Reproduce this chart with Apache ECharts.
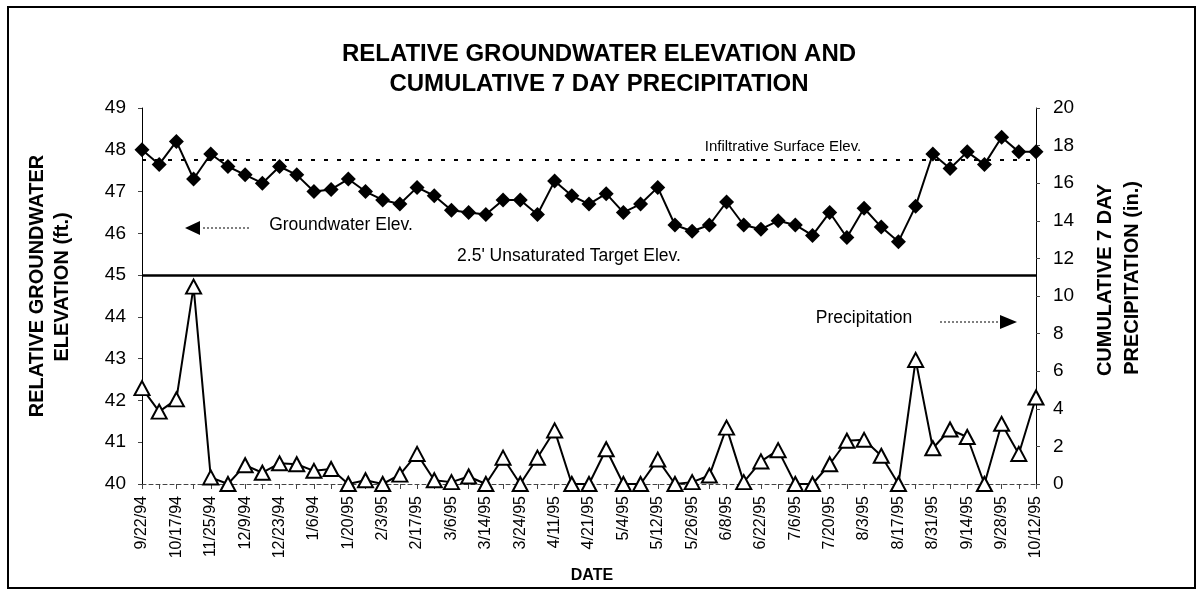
<!DOCTYPE html>
<html>
<head>
<meta charset="utf-8">
<script src="https://cdn.jsdelivr.net/npm/echarts@6/dist/echarts.min.js"></script>
<style>
html,body{margin:0;padding:0;background:#fff;}
#chart{width:1198px;height:591px;}
</style>
</head>
<body>
<div id="chart"></div>
<script>
// ---- data ----
const dateLabels = ['9/22/94','10/17/94','11/25/94','12/9/94','12/23/94','1/6/94','1/20/95','2/3/95','2/17/95','3/6/95','3/14/95','3/24/95','4/11/95','4/21/95','5/4/95','5/12/95','5/26/95','6/8/95','6/22/95','7/6/95','7/20/95','8/3/95','8/17/95','8/31/95','9/14/95','9/28/95','10/12/95'];

const groundwaterElev = [48.0,47.65,48.2,47.3,47.9,47.6,47.4,47.2,47.6,47.4,
  47.0,47.05,47.3,47.0,46.8,46.7,47.1,46.9,46.55,46.5,
  46.45,46.8,46.8,46.45,47.25,46.9,46.7,46.95,46.5,46.7,
  47.1,46.2,46.05,46.2,46.75,46.2,46.1,46.3,46.2,45.95,
  46.5,45.9,46.6,46.15,45.8,46.65,47.9,47.55,47.95,47.65,
  48.3,47.95,47.95];

const precipitation = [5.1,3.85,4.5,10.5,0.35,0,1.0,0.6,1.1,1.05,
  0.7,0.8,0,0.2,0,0.5,1.6,0.2,0.1,0.4,
  0,1.4,0,1.4,2.85,0,0,1.85,0,0,
  1.3,0,0.1,0.45,3.0,0.1,1.2,1.8,0,0,
  1.05,2.3,2.35,1.5,0,6.6,1.9,2.9,2.5,0,
  3.2,1.6,4.6];

const leftAxisRange = [40, 49, 1];
const rightAxisRange = [0, 20, 2];
const infiltrativeElev = 47.75;
const targetElev = 45.0;

// categories: one labelled date every second reading
const categories = [];
for (let i = 0; i < groundwaterElev.length; i++) {
  categories.push(i % 2 === 0 ? dateLabels[i / 2] : '');
}

const FONT = '"Liberation Sans", Arial, sans-serif';
const chart = echarts.init(document.getElementById('chart'));

chart.setOption({
  animation: false,
  backgroundColor: '#fff',
  title: {
    text: 'RELATIVE GROUNDWATER ELEVATION AND\nCUMULATIVE 7 DAY PRECIPITATION',
    left: 'center',
    top: 34,
    textStyle: { fontFamily: FONT, fontSize: 24, fontWeight: 'bold', color: '#000', lineHeight: 30 }
  },
  grid: { left: 142, right: 162, top: 108, bottom: 107 },
  xAxis: {
    type: 'category',
    data: categories,
    boundaryGap: false,
    axisLine: { onZero: false, lineStyle: { color: '#444', width: 1, type: [4, 3] } },
    axisTick: { show: true, interval: 0, length: 5, lineStyle: { color: '#444' } },
    axisLabel: { interval: 0, rotate: 90, margin: 12, fontFamily: FONT, fontSize: 16, color: '#000' },
    splitLine: { show: false }
  },
  yAxis: [
    {
      type: 'value', min: leftAxisRange[0], max: leftAxisRange[1], interval: leftAxisRange[2],
      axisLine: { show: true, lineStyle: { color: '#000', width: 1 } },
      axisTick: { show: true, length: 4, lineStyle: { color: '#444' } },
      axisLabel: { margin: 16, fontFamily: FONT, fontSize: 19, color: '#000' },
      splitLine: { show: false }
    },
    {
      type: 'value', min: rightAxisRange[0], max: rightAxisRange[1], interval: rightAxisRange[2],
      position: 'right',
      axisLine: { show: true, lineStyle: { color: '#000', width: 1 } },
      axisTick: { show: true, length: 4, lineStyle: { color: '#444' } },
      axisLabel: { margin: 17, fontFamily: FONT, fontSize: 19, color: '#000' },
      splitLine: { show: false }
    }
  ],
  series: [
    {
      name: 'Groundwater Elev.',
      type: 'line',
      yAxisIndex: 0,
      data: groundwaterElev,
      symbol: 'diamond',
      symbolSize: 15,
      itemStyle: { color: '#000' },
      lineStyle: { color: '#000', width: 2 },
      z: 4,
      markLine: {
        silent: true,
        symbol: 'none',
        label: { show: false },
        data: [
          { yAxis: infiltrativeElev, lineStyle: { color: '#000', width: 2, type: [4, 9] } },
          { yAxis: targetElev, lineStyle: { color: '#000', width: 2.5, type: 'solid' } }
        ]
      }
    },
    {
      name: 'Precipitation',
      type: 'line',
      yAxisIndex: 1,
      data: precipitation,
      symbol: 'triangle',
      symbolSize: [15, 14],
      itemStyle: { color: '#fff', borderColor: '#000', borderWidth: 2 },
      lineStyle: { color: '#000', width: 2 },
      z: 3
    }
  ],
  graphic: [
    { type: 'rect', shape: { x: 8, y: 7, width: 1187, height: 581 }, style: { fill: 'none', stroke: '#000', lineWidth: 2 }, z: 10 },
    { type: 'text', x: 37, y: 286, rotation: Math.PI / 2, style: { text: 'RELATIVE GROUNDWATER', font: 'bold 20px ' + FONT, fill: '#000', align: 'center', verticalAlign: 'middle' } },
    { type: 'text', x: 62, y: 287, rotation: Math.PI / 2, style: { text: 'ELEVATION (ft.)', font: 'bold 20px ' + FONT, fill: '#000', align: 'center', verticalAlign: 'middle' } },
    { type: 'text', x: 1105, y: 280, rotation: Math.PI / 2, style: { text: 'CUMULATIVE 7 DAY', font: 'bold 20px ' + FONT, fill: '#000', align: 'center', verticalAlign: 'middle' } },
    { type: 'text', x: 1132, y: 278, rotation: Math.PI / 2, style: { text: 'PRECIPITATION (in.)', font: 'bold 20px ' + FONT, fill: '#000', align: 'center', verticalAlign: 'middle' } },
    { type: 'text', x: 592, y: 576, style: { text: 'DATE', font: 'bold 16px ' + FONT, fill: '#000', align: 'center', verticalAlign: 'middle' } },
    { type: 'text', x: 783, y: 147, style: { text: 'Infiltrative Surface Elev.', font: '15px ' + FONT, fill: '#000', align: 'center', verticalAlign: 'middle' } },
    { type: 'text', x: 341, y: 225, style: { text: 'Groundwater Elev.', font: '17.5px ' + FONT, fill: '#000', align: 'center', verticalAlign: 'middle' } },
    { type: 'text', x: 569, y: 256, style: { text: "2.5' Unsaturated Target Elev.", font: '17.5px ' + FONT, fill: '#000', align: 'center', verticalAlign: 'middle' } },
    { type: 'text', x: 864, y: 318, style: { text: 'Precipitation', font: '17.5px ' + FONT, fill: '#000', align: 'center', verticalAlign: 'middle' } },
    { type: 'polygon', shape: { points: [[185, 228], [200, 221], [200, 235]] }, style: { fill: '#000' } },
    { type: 'line', shape: { x1: 203, y1: 228, x2: 250, y2: 228 }, style: { stroke: '#000', lineWidth: 1, lineDash: [2, 2] } },
    { type: 'line', shape: { x1: 940, y1: 322, x2: 1000, y2: 322 }, style: { stroke: '#000', lineWidth: 1, lineDash: [2, 2] } },
    { type: 'polygon', shape: { points: [[1017, 322], [1000, 315], [1000, 329]] }, style: { fill: '#000' } }
  ]
});
</script>
</body>
</html>
